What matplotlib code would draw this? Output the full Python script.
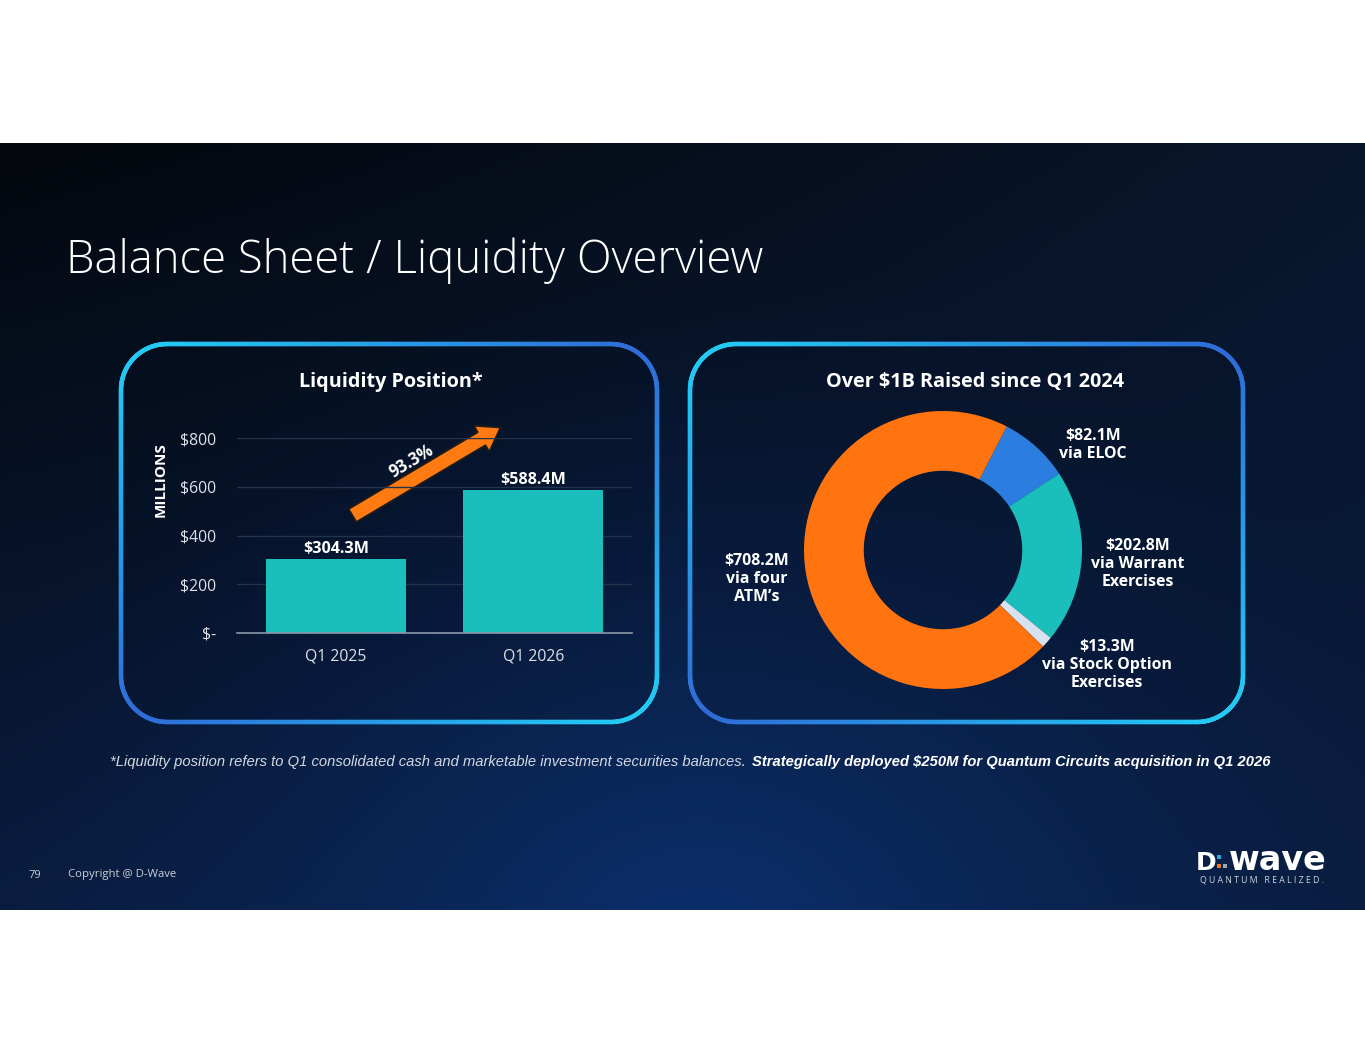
import numpy as np
import matplotlib
matplotlib.use("Agg")
import matplotlib.pyplot as plt
from matplotlib.collections import LineCollection
from matplotlib.patches import Polygon, FancyArrowPatch, ArrowStyle, Rectangle

plt.rcParams['font.family'] = ['Open Sans', 'DejaVu Sans']

W, H = 1365, 1055

# bar chart data
quarters = ["Q1 2025", "Q1 2026"]
liquidity = [304.3, 588.4]
liquidity_labels = ["$304.3M", "$588.4M"]
growth_label = "93.3%"
y_ticks = [0, 200, 400, 600, 800]
y_tick_labels = ["$-", "$200", "$400", "$600", "$800"]

# donut data
raise_sources = ["via ELOC", "via Warrant\nExercises", "via Stock Option\nExercises", "via four\nATM\u2019s"]
raise_values = [82.1, 202.8, 13.3, 708.2]
raise_labels = ["$82.1M", "$202.8M", "$13.3M", "$708.2M"]
raise_colors = ["#2b7de0", "#1abfbc", "#d6e2ef", "#ff740f"]
label_pos = [(1093, 445), (1138, 564), (1107, 665), (757, 579)]

TEAL = "#1abfbc"
CYAN = np.array([0x22, 0xd0, 0xf5]) / 255
BLUE = np.array([0x2f, 0x6a, 0xd6]) / 255


def rounded_outline(x0, y0, x1, y1, r, n=2000):
    # y grows downwards (pixel coords)
    arcs = [(x1 - r, y0 + r, -90, 0), (x1 - r, y1 - r, 0, 90),
            (x0 + r, y1 - r, 90, 180), (x0 + r, y0 + r, 180, 270)]
    pts = []
    for cx, cy, a0, a1 in arcs:
        a = np.radians(np.linspace(a0, a1, 40))
        pts.append(np.column_stack([cx + r * np.cos(a), cy + r * np.sin(a)]))
    pts = np.vstack(pts + [pts[0][:1]])
    seg = np.hypot(*np.diff(pts, axis=0).T)
    s = np.concatenate([[0], np.cumsum(seg)])
    t = np.linspace(0, s[-1], n)
    return np.column_stack([np.interp(t, s, pts[:, 0]), np.interp(t, s, pts[:, 1])])


def panel(ax, x0, y0, x1, y1, r=46):
    pts = rounded_outline(x0, y0, x1, y1, r)
    ax.add_patch(Polygon(pts, closed=True, fc="#040b18", alpha=0.12, ec="none"))
    u = (pts[:, 0] - x0) / (x1 - x0)
    v = (y1 - pts[:, 1]) / (y1 - y0)
    t = np.clip(np.abs(u - v), 0, 1)[:-1, None]
    cols = BLUE * (1 - t) + CYAN * t
    segs = np.stack([pts[:-1], pts[1:]], axis=1)
    ax.add_collection(LineCollection(segs, colors=cols, linewidths=3.2, capstyle="round"))


fig = plt.figure(figsize=(W / 100, H / 100), dpi=100, facecolor="white")

# full-figure overlay in pixel coordinates
ov = fig.add_axes([0, 0, 1, 1])
ov.set_zorder(0)

# slide background: dark top-left, navy glow from bottom centre
yy, xx = np.mgrid[143:910, 0:W].astype(float)
g = (yy - 143) / 767
top_dark = np.array([4, 7, 12]) / 255
top_navy = np.array([9, 22, 44]) / 255
bot_navy = np.array([9, 28, 62]) / 255
hx = (xx / W)[..., None]
top = top_dark * (1 - hx) + top_navy * hx
img = top * (1 - g[..., None] ** 0.9) + bot_navy * g[..., None] ** 0.9
d = np.hypot(xx - 700, (yy - 960) * 1.15)
f = (np.clip(1 - d / 800, 0, 1) ** 1.5)[..., None]
glow = np.array([12, 48, 110]) / 255
img = img * (1 - f) + glow * f
ov.imshow(np.clip(img, 0, 1), extent=(0, W, 910, 143), aspect="auto", interpolation="bilinear")
ov.set_xlim(0, W)
ov.set_ylim(H, 0)
ov.axis("off")

ov.text(66, 261, "Balance Sheet / Liquidity Overview", color="white", fontsize=32.8,
        fontweight="light", va="center", ha="left")

panel(ov, 121, 344, 657, 722)
panel(ov, 690, 344, 1243, 722)

ov.text(391, 382, "Liquidity Position*", color="white", fontsize=14.3, fontweight="bold",
        ha="center", va="center")
ov.text(975, 382, "Over $1B Raised since Q1 2024", color="white", fontsize=14.3,
        fontweight="bold", ha="center", va="center")
ov.text(161, 480, "MILLIONS", color="white", fontsize=11, fontweight="bold",
        rotation=90, ha="center", va="center")

# bar chart
axb = fig.add_axes([237 / W, 1 - 633 / H, 395 / W, 195 / H], facecolor="none")
axb.set_zorder(2)
x = np.arange(len(quarters))
bars = axb.bar(x, liquidity, width=0.71, color=TEAL, zorder=2)
for b, lab in zip(bars, liquidity_labels):
    axb.annotate(lab, (b.get_x() + b.get_width() / 2, b.get_height()), xytext=(0, 1),
                 textcoords="offset points", ha="center", va="bottom", color="white",
                 fontsize=11.6, fontweight="bold")
axb.set_xlim(-0.5, 1.5)
axb.set_ylim(0, 800)
axb.set_xticks(x, quarters)
axb.set_yticks(y_ticks, y_tick_labels)
axb.grid(axis="y", color="#23324b", lw=1, zorder=0)
for s in ["top", "right", "left"]:
    axb.spines[s].set_visible(False)
axb.spines["bottom"].set_color("#8b97aa")
axb.spines["bottom"].set_linewidth(1.2)
axb.tick_params(length=0, labelcolor="#dde2ea", labelsize=11.3)
axb.tick_params(axis="y", pad=15)
axb.tick_params(axis="x", pad=11)

# growth arrow
arrow = FancyArrowPatch((350, 517), (503, 426),
                        arrowstyle=ArrowStyle.Simple(head_length=1.6, head_width=2.2, tail_width=1.1),
                        mutation_scale=10, fc="#ff7a10", ec="#1b1b1b", lw=1.4, zorder=3)
ov.add_patch(arrow)
ov.text(412, 461, growth_label, rotation=31, rotation_mode="anchor", ha="center", va="center",
        color="white", fontsize=12, fontweight="bold", zorder=4)

# donut
axd = fig.add_axes([(943 - 139) / W, 1 - (550 + 139) / H, 278 / W, 278 / H], facecolor="none")
axd.set_zorder(2)
axd.pie(raise_values, colors=raise_colors, startangle=62.7, counterclock=False, radius=1,
        wedgeprops=dict(width=0.43, edgecolor="none"))
axd.set_xlim(-1, 1)
axd.set_ylim(-1, 1)
for (px, py), lab, src in zip(label_pos, raise_labels, raise_sources):
    ov.text(px, py, lab + "\n" + src, ha="center", va="center", multialignment="center",
            color="white", fontsize=11.4, fontweight="bold", linespacing=1.15)

# footnote
part1 = "*Liquidity position refers to Q1 consolidated cash and marketable investment securities balances."
part2 = "Strategically deployed $250M for Quantum Circuits acquisition in Q1 2026"
renderer = fig.canvas.get_renderer()
fn1 = ov.text(110, 762, part1, family=["Liberation Sans", "DejaVu Sans"], style="italic",
              fontsize=10, color="#d3d9e2", va="center", ha="left")
w1 = fn1.get_window_extent(renderer).width
fn1.set_fontsize(10 * 639 / w1)
x_end = ov.transData.inverted().transform((fn1.get_window_extent(renderer).x1, 0))[0]
ov.text(x_end + 6, 762, part2, family=["Liberation Sans", "DejaVu Sans"], style="italic",
        fontweight="bold", fontsize=fn1.get_fontsize(), color="white", va="center", ha="left")

# footer
ov.text(35, 875, "79", color="#c9ced6", fontsize=8, ha="center", va="center")
ov.text(68, 875, "Copyright @ D-Wave", color="#c9ced6", fontsize=8.2, ha="left", va="center")
ov.text(1196, 870, "D", color="white", fontsize=18, fontweight="bold", ha="left", va="baseline",
        family="DejaVu Sans")
ov.add_patch(Rectangle((1217, 855), 4, 4, fc="#2fa8e8", ec="none"))
ov.add_patch(Rectangle((1217, 864), 4, 4, fc="#f07a22", ec="none"))
ov.add_patch(Rectangle((1223, 864), 4, 4, fc="#9aa7b8", ec="none"))
ov.text(1229, 870, "wave", color="white", fontsize=24, fontweight="bold", ha="left", va="baseline",
        family="DejaVu Sans")
ov.text(1262, 880, " ".join("QUANTUM REALIZED."), color="#cdd5df", fontsize=6.3,
        ha="center", va="center")

fig.savefig("out.png", dpi=100, facecolor="white")
